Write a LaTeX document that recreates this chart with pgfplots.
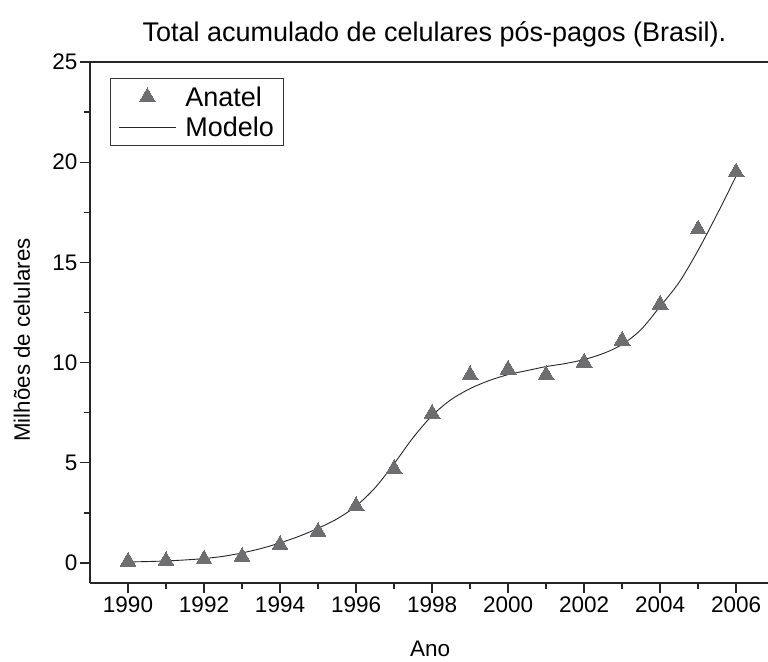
\documentclass[border=0pt]{standalone}
\usepackage{fontspec}
\setmainfont{Liberation Sans}
\usepackage{pgfplots}
\pgfplotsset{compat=1.18}
\definecolor{markgray}{RGB}{110,110,112}
\pgfplotsset{
 marklegend/.style={legend image code/.code={\draw[##1] plot coordinates {(28.5bp,0bp)}; \path (0bp,0bp) (64bp,0bp);}},
 linelegend/.style={legend image code/.code={\draw[##1] (0bp,0bp) -- (57bp,0bp); \path (64bp,0bp);}},
}
\begin{document}
\begin{tikzpicture}
\path[use as bounding box] (-90bp,-79bp) rectangle (678bp,583bp);
\begin{axis}[
 scale only axis, width=678bp, height=521bp,
 xmin=1989, xmax=2006.84, ymin=-1, ymax=25,
 clip=false,
 axis lines=left,
 axis line style={line width=1.8bp, -, black!85},
 xtick={1990,1992,...,2006}, minor xtick={1991,1993,...,2005},
 ytick={0,5,...,25}, minor ytick={2.5,7.5,...,22.5},
 tick align=outside,
 major tick length=10bp, minor tick length=6bp,
 every tick/.style={line width=1.3bp, black!85},
 /pgf/number format/assume math mode=true,
 x tick label style={/pgf/number format/1000 sep={}, font=\fontsize{22.5bp}{26bp}\selectfont},
 y tick label style={font=\fontsize{22.5bp}{26bp}\selectfont, xshift=1bp},
 xlabel={Ano}, ylabel={Milhões de celulares},
 every axis x label/.style={at={(axis description cs:0.5015,-0.142)}, anchor=base, font=\fontsize{22.5bp}{26bp}\selectfont},
 every axis y label/.style={at={(axis description cs:-0.1003,0.4664)}, rotate=90, anchor=center, font=\fontsize{22.3bp}{26bp}\selectfont},
 title={Total acumulado de celulares pós-pagos (Brasil).},
 title style={at={(axis description cs:0.508,1.0288)}, anchor=base, font=\fontsize{27bp}{31bp}\selectfont},
 legend style={at={(axis description cs:0.0295,0.969)}, anchor=north west,
   draw=black!80, line width=0.8bp, font=\fontsize{27bp}{31bp}\selectfont,
   inner xsep=8bp, inner ysep=6bp, row sep=5bp},
 legend cell align=left,
]
\addplot[only marks, mark=triangle*, mark size=9.2bp, mark options={fill=markgray, draw=markgray, line width=0pt}, marklegend]
coordinates {
(1990,0.07) (1991,0.10) (1992,0.18) (1993,0.31) (1994,0.90) (1995,1.56)
(1996,2.84) (1997,4.69) (1998,7.45) (1999,9.38) (2000,9.65) (2001,9.38)
(2002,10.0) (2003,11.1) (2004,12.9) (2005,16.65) (2006,19.5)
};
\addlegendentry{Anatel}
\addplot[smooth, black!85, line width=0.9bp, mark=none, linelegend]
coordinates {
(1990,0.05) (1990.5,0.07) (1991,0.10) (1991.5,0.15) (1992,0.22) (1992.5,0.33)
(1993,0.50) (1993.5,0.72) (1994,1.00) (1994.5,1.33) (1995,1.73) (1995.5,2.20)
(1996,2.84) (1996.5,3.75) (1997,4.95) (1997.5,6.25) (1998,7.35) (1998.5,8.15)
(1999,8.70) (1999.5,9.10) (2000,9.40) (2000.5,9.60) (2001,9.80) (2001.5,9.95)
(2002,10.15) (2002.5,10.45) (2003,10.90) (2003.5,11.65) (2004,12.80) (2004.5,14.0)
(2005,15.6) (2005.5,17.4) (2006,19.3)
};
\addlegendentry{Modelo}
\draw[line width=1.8bp, black!85] (rel axis cs:0,1) -- (rel axis cs:1,1);
\end{axis}
\end{tikzpicture}
\end{document}
